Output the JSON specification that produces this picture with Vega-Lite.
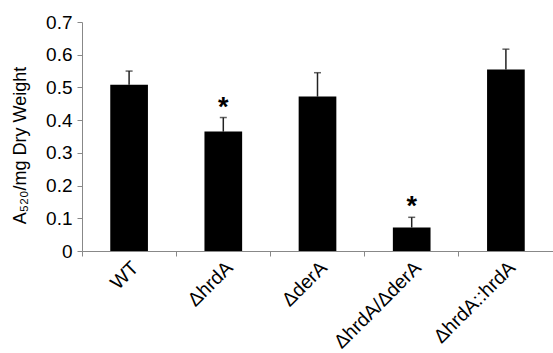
{
  "$schema": "https://vega.github.io/schema/vega-lite/v6.json",
  "width": 471,
  "height": 229,
  "autosize": {"type": "none"},
  "padding": {"left": 82, "top": 22, "right": 0, "bottom": 102},
  "background": "white",
  "config": {
    "view": {"stroke": null},
    "font": "Liberation Sans",
    "axis": {"grid": false, "domainColor": "#888888", "tickColor": "#888888", "labelColor": "#000000", "titleColor": "#000000", "labelFont": "Liberation Sans", "titleFont": "Liberation Sans", "labelOverlap": false}
  },
  "data": {
    "values": [
      {"strain": "WT", "value": 0.508, "err": 0.550, "star": ""},
      {"strain": "ΔhrdA", "value": 0.365, "err": 0.408, "star": "*"},
      {"strain": "ΔderA", "value": 0.472, "err": 0.545, "star": ""},
      {"strain": "ΔhrdA/ΔderA", "value": 0.072, "err": 0.103, "star": "*"},
      {"strain": "ΔhrdA::hrdA", "value": 0.555, "err": 0.617, "star": ""}
    ]
  },
  "encoding": {
    "x": {
      "field": "strain", "type": "nominal", "sort": null,
      "scale": {"paddingInner": 0, "paddingOuter": 0},
      "axis": {"title": null, "labelAngle": -45, "labelFontSize": 19.5, "bandPosition": 0, "tickSize": 5, "labelPadding": 2, "domainWidth": 1}
    },
    "y": {
      "field": "value", "type": "quantitative",
      "scale": {"domain": [0, 0.7], "nice": false},
      "axis": {
        "title": "A₅₂₀/mg Dry Weight", "titleFontSize": 18, "titleFontWeight": "normal",
        "titleX": -62, "titleY": 123, "titleAlign": "center", "titleBaseline": "middle", "titleAngle": -90,
        "values": [0, 0.1, 0.2, 0.3, 0.4, 0.5, 0.6, 0.7], "format": ".1~f",
        "labelFontSize": 19, "tickSize": 5, "labelPadding": 5
      }
    }
  },
  "layer": [
    {
      "mark": {"type": "rule", "color": "#222222", "strokeWidth": 1.5},
      "encoding": {
        "y2": {"field": "err"}
      }
    },
    {
      "mark": {"type": "tick", "color": "#222222", "size": 7, "thickness": 1.5},
      "encoding": {
        "y": {"field": "err", "type": "quantitative"}
      }
    },
    {
      "mark": {"type": "bar", "color": "#000000", "width": {"band": 0.4}}
    },
    {
      "mark": {"type": "text", "fontSize": 27, "fontWeight": "bold", "dy": 4, "baseline": "bottom"},
      "encoding": {
        "y": {"field": "err", "type": "quantitative"},
        "text": {"field": "star"}
      }
    }
  ]
}
